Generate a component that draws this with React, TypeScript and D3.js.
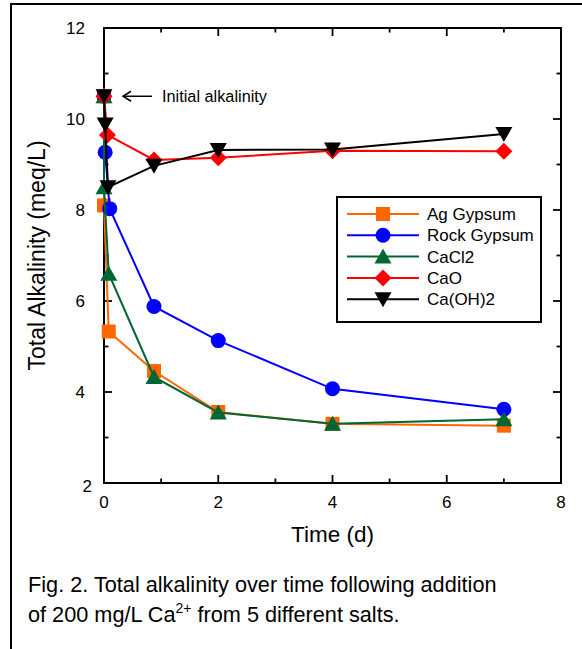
import React from "react";
import * as d3 from "d3";

// Sampling times (days) and total alkalinity (meq/L) for each salt
const agGypsumDays = [0, 0, 0.083, 0.875, 2, 4, 7];
const agGypsumAlk = [10.5, 8.1, 5.33, 4.46, 3.56, 3.3, 3.26];

const rockGypsumDays = [0, 0.02, 0.1, 0.875, 2, 4, 7];
const rockGypsumAlk = [10.5, 9.27, 8.03, 5.88, 5.13, 4.07, 3.62];

const caCl2Days = [0, 0, 0.083, 0.875, 2, 4, 7];
const caCl2Alk = [10.5, 8.5, 6.6, 4.33, 3.55, 3.3, 3.4];

const caODays = [0, 0.06, 0.875, 2, 4, 7];
const caOAlk = [10.5, 9.65, 9.1, 9.15, 9.3, 9.29];

const caOH2Days = [0, 0.02, 0.07, 0.875, 2, 4, 7];
const caOH2Alk = [10.5, 9.88, 8.5, 8.97, 9.32, 9.33, 9.67];

const seriesNames = ["Ag Gypsum", "Rock Gypsum", "CaCl2", "CaO", "Ca(OH)2"];
const seriesColors = ["#FF6600", "#0000FF", "#006633", "#FF0000", "#000000"];
const seriesMarkers = ["square", "circle", "triangleUp", "diamond", "triangleDown"];

const xTicks = [0, 1, 2, 3, 4, 5, 6, 7, 8];
const yTicks = [2, 3, 4, 5, 6, 7, 8, 9, 10, 11, 12];

const FONT = "'Liberation Sans', Arial, Helvetica, sans-serif";

function markerPath(kind: string): string {
  switch (kind) {
    case "square":
      return "M-7,-7H7V7H-7Z";
    case "circle":
      return "M-7.5,0A7.5,7.5 0 1,0 7.5,0A7.5,7.5 0 1,0 -7.5,0Z";
    case "triangleUp":
      return "M0,-8L8.5,7L-8.5,7Z";
    case "triangleDown":
      return "M0,8L8.5,-7L-8.5,-7Z";
    case "diamond":
      return "M0,-8.5L8.5,0L0,8.5L-8.5,0Z";
    default:
      return "";
  }
}

export default function App() {
  const series = [
    { days: agGypsumDays, alk: agGypsumAlk },
    { days: rockGypsumDays, alk: rockGypsumAlk },
    { days: caCl2Days, alk: caCl2Alk },
    { days: caODays, alk: caOAlk },
    { days: caOH2Days, alk: caOH2Alk },
  ].map((s, i) => ({
    name: seriesNames[i],
    color: seriesColors[i],
    marker: seriesMarkers[i],
    points: s.days.map((d, j) => ({ t: d, v: s.alk[j] })),
  }));

  const x = d3.scaleLinear().domain([0, 8]).range([104, 561]);
  const y = d3.scaleLinear().domain([2, 12]).range([483, 28]);

  const line = d3
    .line<{ t: number; v: number }>()
    .x((d) => x(d.t))
    .y((d) => y(d.v));

  const [x0, x1] = x.range();
  const [yb, yt] = y.range();

  const legendX = 337;
  const legendY = 197;
  const legendRow = 21.3;

  return (
    <div style={{ position: "absolute", left: 0, top: 0 }}>
      <svg width={582} height={649} style={{ display: "block" }}>
        <rect x={0} y={0} width={582} height={649} fill="#ffffff" />
        {/* outer figure frame */}
        <rect x={11} y={4} width={600} height={700} fill="none" stroke="#000" strokeWidth={2} />

        {/* plot frame */}
        <rect x={x0} y={yt} width={x1 - x0} height={yb - yt} fill="none" stroke="#000" strokeWidth={2} />

        {/* x ticks (bottom and top, inward) */}
        {xTicks.map((t) => {
          const len = t % 2 === 0 ? 8 : 4.5;
          return (
            <g key={"xt" + t}>
              <line x1={x(t)} x2={x(t)} y1={yb} y2={yb - len} stroke="#000" strokeWidth={1.8} />
              <line x1={x(t)} x2={x(t)} y1={yt} y2={yt + len} stroke="#000" strokeWidth={1.8} />
            </g>
          );
        })}
        {/* y ticks (left and right, inward) */}
        {yTicks.map((v) => {
          const len = v % 2 === 0 ? 8 : 4.5;
          return (
            <g key={"yt" + v}>
              <line x1={x0} x2={x0 + len} y1={y(v)} y2={y(v)} stroke="#000" strokeWidth={1.8} />
              <line x1={x1} x2={x1 - len} y1={y(v)} y2={y(v)} stroke="#000" strokeWidth={1.8} />
            </g>
          );
        })}

        {/* tick labels */}
        {xTicks
          .filter((t) => t % 2 === 0)
          .map((t) => (
            <text key={"xl" + t} x={x(t)} y={508} textAnchor="middle" fontFamily={FONT} fontSize={17} fill="#000">
              {t}
            </text>
          ))}
        {yTicks
          .filter((v) => v % 2 === 0)
          .map((v) => (
            <text
              key={"yl" + v}
              x={v === 2 ? 92 : 85}
              y={y(v) + (v === 2 ? 9 : 6)}
              textAnchor="end"
              fontFamily={FONT}
              fontSize={17}
              fill="#000"
            >
              {v}
            </text>
          ))}

        {/* axis titles */}
        <text x={(x0 + x1) / 2} y={542} textAnchor="middle" fontFamily={FONT} fontSize={22.5} fill="#000">
          Time (d)
        </text>
        <text
          transform={`translate(45,${(yb + yt) / 2}) rotate(-90)`}
          textAnchor="middle"
          fontFamily={FONT}
          fontSize={23}
          fill="#000"
        >
          Total Alkalinity (meq/L)
        </text>

        {/* series */}
        {series.map((s) => (
          <g key={s.name}>
            <path d={line(s.points) || ""} fill="none" stroke={s.color} strokeWidth={2} />
            {s.points.map((p, j) => (
              <path
                key={j}
                d={markerPath(s.marker)}
                transform={`translate(${x(p.t)},${y(p.v)})`}
                fill={s.color}
              />
            ))}
          </g>
        ))}

        {/* initial alkalinity annotation */}
        <g stroke="#000" strokeWidth={1.5} fill="none">
          <line x1={123} x2={152} y1={y(10.5)} y2={y(10.5)} />
          <polyline points={`131,${y(10.5) - 5} 123,${y(10.5)} 131,${y(10.5) + 5}`} />
        </g>
        <text x={162} y={y(10.5) + 5.5} fontFamily={FONT} fontSize={16.3} fill="#000">
          Initial alkalinity
        </text>

        {/* legend */}
        <rect x={legendX} y={legendY} width={204} height={125} fill="#fff" stroke="#000" strokeWidth={2} />
        {series.map((s, i) => {
          const cy = legendY + 17 + i * legendRow;
          return (
            <g key={"lg" + s.name}>
              <line x1={347} x2={419} y1={cy} y2={cy} stroke={s.color} strokeWidth={2} />
              <path d={markerPath(s.marker)} transform={`translate(383,${cy})`} fill={s.color} />
              <text x={427} y={cy + 6} fontFamily={FONT} fontSize={17} fill="#000">
                {s.name}
              </text>
            </g>
          );
        })}

        {/* caption */}
        <text x={28} y={592} fontFamily={FONT} fontSize={21.7} fill="#000">
          Fig. 2. Total alkalinity over time following addition
        </text>
        <text x={28} y={622} fontFamily={FONT} fontSize={21.7} fill="#000">
          of 200 mg/L Ca
          <tspan fontSize={14} dy={-9}>
            2+
          </tspan>
          <tspan dy={9}> from 5 different salts.</tspan>
        </text>
      </svg>
    </div>
  );
}
